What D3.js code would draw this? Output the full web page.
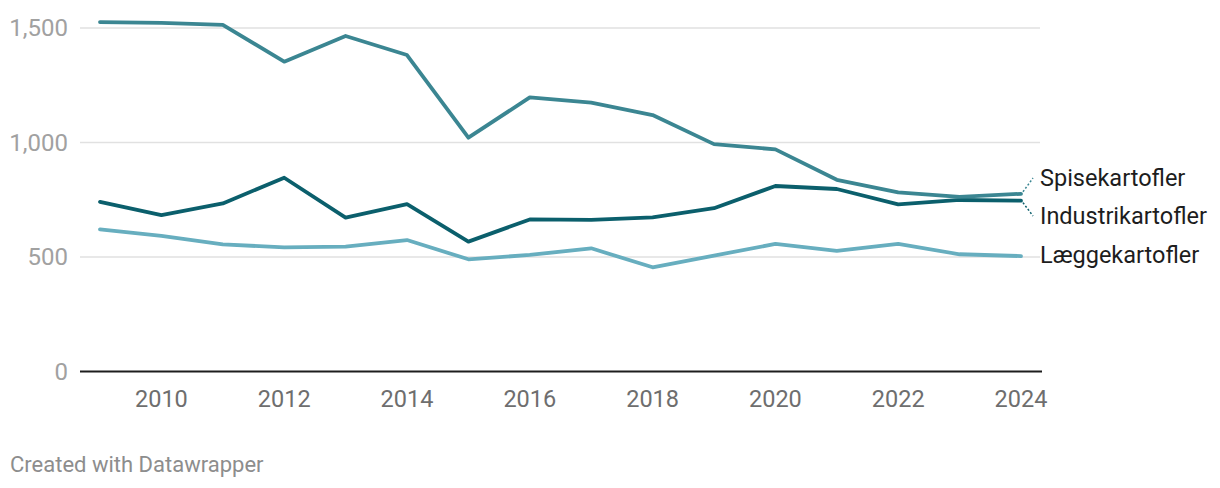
<!DOCTYPE html>
<html>
<head>
<meta charset="utf-8">
<script src="https://cdn.jsdelivr.net/npm/d3@7"></script>
<style>
  body { margin: 0; background: #fff; font-family: Roboto, "Noto Sans", sans-serif; }
</style>
</head>
<body>
<script>
// data
const years = [2009, 2010, 2011, 2012, 2013, 2014, 2015, 2016, 2017, 2018, 2019, 2020, 2021, 2022, 2023, 2024];
const spise = [1526, 1522, 1514, 1353, 1465, 1382, 1021, 1197, 1174, 1120, 993, 970, 837, 782, 763, 776];
const industri = [741, 683, 734, 846, 672, 731, 567, 664, 662, 673, 713, 810, 797, 730, 749, 746];
const laegge = [621, 592, 555, 542, 545, 574, 490, 509, 538, 455, 506, 557, 527, 557, 512, 504];
const seriesNames = ["Spisekartofler", "Industrikartofler", "Læggekartofler"];
const yTicks = [0, 500, 1000, 1500];
const xTicks = [2010, 2012, 2014, 2016, 2018, 2020, 2022, 2024];

const W = 1220, H = 488;
const colors = ["#3b8692", "#0b5f6c", "#67aebf"];

const svg = d3.select("body").append("svg").attr("width", W).attr("height", H);

const x = d3.scaleLinear().domain([2009, 2024]).range([100, 1021]);
const y = d3.scaleLinear().domain([0, 1500]).range([371.5, 28]);

// grid
svg.append("g").selectAll("line").data(yTicks.filter(d => d > 0)).enter().append("line")
  .attr("x1", 80).attr("x2", 1040)
  .attr("y1", d => y(d)).attr("y2", d => y(d))
  .attr("stroke", "#e1e1e1").attr("stroke-width", 1.3);

// y labels
svg.append("g").selectAll("text").data(yTicks).enter().append("text")
  .attr("x", 68).attr("y", d => y(d)).attr("dy", "0.35em")
  .attr("text-anchor", "end")
  .attr("fill", "#a1a1a1").attr("font-size", 24)
  .text(d => d3.format(",")(d));

// baseline
svg.append("line").attr("x1", 80).attr("x2", 1042).attr("y1", y(0)).attr("y2", y(0))
  .attr("stroke", "#1d1d1d").attr("stroke-width", 2);

// x labels
svg.append("g").selectAll("text").data(xTicks).enter().append("text")
  .attr("x", d => x(d)).attr("y", 407)
  .attr("text-anchor", "middle")
  .attr("fill", "#6e6e6e").attr("font-size", 23.5)
  .text(d => d);

const line = d3.line().x((d, i) => x(years[i])).y(d => y(d));

[laegge, industri, spise].forEach((s, k) => {
  const idx = 2 - k;
  svg.append("path").datum(s)
    .attr("d", line)
    .attr("fill", "none")
    .attr("stroke", colors[idx])
    .attr("stroke-width", 3.8)
    .attr("stroke-linejoin", "round")
    .attr("stroke-linecap", "round");
});

// labels at line ends
const ends = [spise, industri, laegge].map(s => s[s.length - 1]);
const labelY = [178, 216, 255];
const xe = x(2024);
seriesNames.forEach((n, i) => {
  if (i < 2) {
    svg.append("line")
      .attr("x1", xe + 2).attr("y1", y(ends[i]) + (i === 0 ? -2 : 2))
      .attr("x2", xe + 12).attr("y2", labelY[i])
      .attr("stroke", colors[i]).attr("stroke-width", 1.5)
      .attr("stroke-dasharray", "2,2");
  }
  svg.append("text")
    .attr("x", 1040).attr("y", labelY[i]).attr("dy", "0.35em")
    .attr("fill", "#1d1d1d").attr("font-size", 23.5)
    .text(n);
});

svg.append("text").attr("x", 10).attr("y", 472)
  .attr("fill", "#8d8d8d").attr("font-size", 22)
  .text("Created with Datawrapper");
</script>
</body>
</html>
